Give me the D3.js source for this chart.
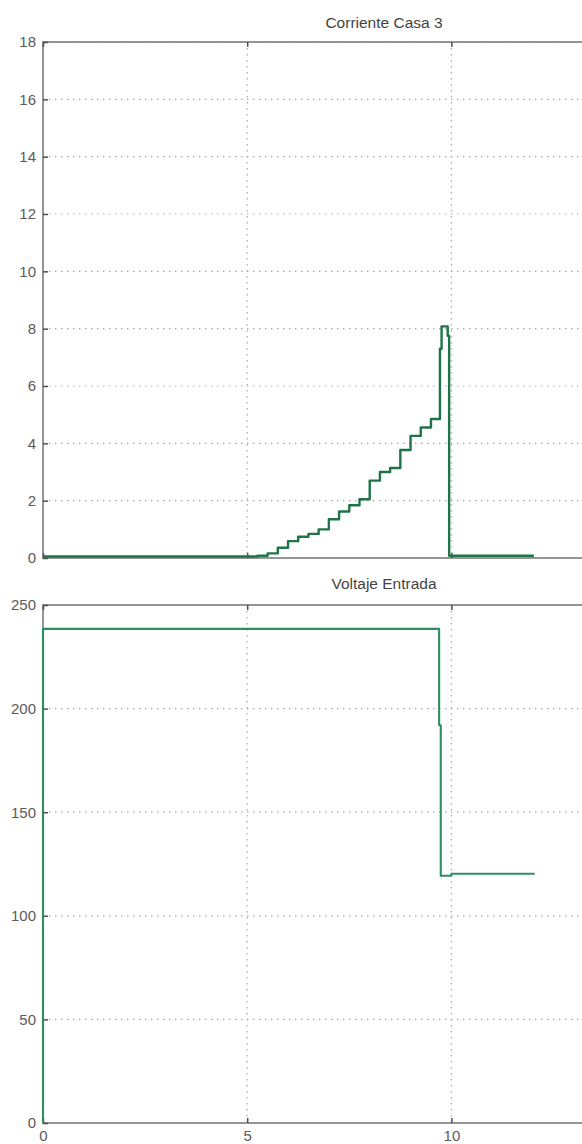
<!DOCTYPE html>
<html>
<head>
<meta charset="utf-8">
<script src="https://cdn.jsdelivr.net/npm/d3@7"></script>
<style>
  html, body { margin: 0; padding: 0; background: #fff; }
  svg { display: block; }
</style>
</head>
<body>
<svg id="chart" width="582" height="1144"></svg>
<script>
// ---------- data ----------
const currentTitle = "Corriente Casa 3";
const voltageTitle = "Voltaje Entrada";

const currentTime  = [0, 5.25, 5.5, 5.75, 6.0, 6.25, 6.5, 6.75, 7.0, 7.25, 7.5, 7.75, 8.0, 8.25, 8.5, 8.75, 9.0, 9.25, 9.5, 9.72, 9.76, 9.91, 9.945, 12.02];
const currentValue = [0.05, 0.08, 0.16, 0.36, 0.59, 0.74, 0.84, 1.0, 1.35, 1.62, 1.84, 2.05, 2.7, 3.0, 3.14, 3.77, 4.26, 4.55, 4.85, 7.3, 8.08, 7.75, 0.08, 0.08];

const voltageTime  = [0, 0, 9.70, 9.70, 9.74, 10.0, 12.04];
const voltageValue = [0, 238.5, 238.5, 192, 119.3, 120.3, 120.3];

const xTicks = [0, 5, 10];
const currentTicks = [0, 2, 4, 6, 8, 10, 12, 14, 16, 18];
const voltageTicks = [0, 50, 100, 150, 200, 250];

// ---------- layout ----------
const svg = d3.select("#chart");
const left = 43, right = 725;
const x = d3.scaleLinear().domain([0, 16.7]).range([left, right]);

const panels = [
  { title: currentTitle, titleY: 24, top: 42, bottom: 558, domain: [0, 18], ticks: currentTicks,
    t: currentTime, v: currentValue, color: "#1e7446", width: 2.4, xLabels: false },
  { title: voltageTitle, titleY: 585, top: 605, bottom: 1123, domain: [0, 250], ticks: voltageTicks,
    t: voltageTime, v: voltageValue, color: "#2c8f5e", width: 2.1, xLabels: true }
];

const font = "'Liberation Sans', Arial, sans-serif";
const gridColor = "#a8a8a8";
const axisColor = "#8a8a8a";
const tickColor = "#505050";
const labelColor = "#5a5a5a";

panels.forEach(p => {
  const y = d3.scaleLinear().domain(p.domain).range([p.bottom, p.top]);
  const g = svg.append("g");

  // grid
  g.append("g").selectAll("line.h").data(p.ticks.filter(d => d !== p.domain[0])).join("line")
    .attr("x1", left).attr("x2", right)
    .attr("y1", d => y(d)).attr("y2", d => y(d))
    .attr("stroke", gridColor).attr("stroke-width", 1.2)
    .attr("stroke-dasharray", "1.5,4.5");
  g.append("g").selectAll("line.v").data(xTicks.filter(d => d !== 0)).join("line")
    .attr("x1", d => x(d)).attr("x2", d => x(d))
    .attr("y1", p.top).attr("y2", p.bottom)
    .attr("stroke", gridColor).attr("stroke-width", 1.2)
    .attr("stroke-dasharray", "1.5,4.5");

  // frame
  g.append("rect")
    .attr("x", left).attr("y", p.top)
    .attr("width", right - left).attr("height", p.bottom - p.top)
    .attr("fill", "none").attr("stroke", axisColor).attr("stroke-width", 1.8);

  // y axis (inward ticks)
  const yAxis = d3.axisLeft(y).tickValues(p.ticks).tickSize(-5).tickPadding(7)
    .tickFormat(d3.format("d"));
  const ya = g.append("g").attr("transform", `translate(${left},0)`).call(yAxis);
  ya.select(".domain").remove();
  ya.selectAll(".tick line").attr("stroke", tickColor).attr("stroke-width", 1.5);
  ya.selectAll(".tick text").attr("fill", labelColor)
    .style("font-family", font).style("font-size", "15px");

  // x axis bottom (inward ticks)
  const xAxis = d3.axisBottom(x).tickValues(xTicks).tickSize(-5).tickPadding(7)
    .tickFormat(p.xLabels ? d3.format("d") : () => "");
  const xa = g.append("g").attr("transform", `translate(0,${p.bottom})`).call(xAxis);
  xa.select(".domain").remove();
  xa.selectAll(".tick line").attr("stroke", tickColor).attr("stroke-width", 1.5);
  xa.selectAll(".tick text").attr("fill", labelColor)
    .style("font-family", font).style("font-size", "15px");

  // x axis top (inward ticks)
  const xTop = d3.axisTop(x).tickValues(xTicks).tickSize(-5).tickFormat(() => "");
  const xt = g.append("g").attr("transform", `translate(0,${p.top})`).call(xTop);
  xt.select(".domain").remove();
  xt.selectAll(".tick line").attr("stroke", tickColor).attr("stroke-width", 1.5);

  // line
  const line = d3.line()
    .x((d, i) => x(p.t[i]))
    .y((d, i) => y(p.v[i]))
    .curve(d3.curveStepAfter);
  g.append("path")
    .datum(p.v)
    .attr("d", line)
    .attr("fill", "none")
    .attr("stroke", p.color)
    .attr("stroke-width", p.width)
    .attr("stroke-linejoin", "round");

  // title
  g.append("text")
    .attr("x", (left + right) / 2).attr("y", p.titleY)
    .attr("text-anchor", "middle").attr("dominant-baseline", "middle")
    .attr("fill", "#444")
    .style("font-family", font).style("font-size", "15.5px")
    .text(p.title);
});
</script>
</body>
</html>
